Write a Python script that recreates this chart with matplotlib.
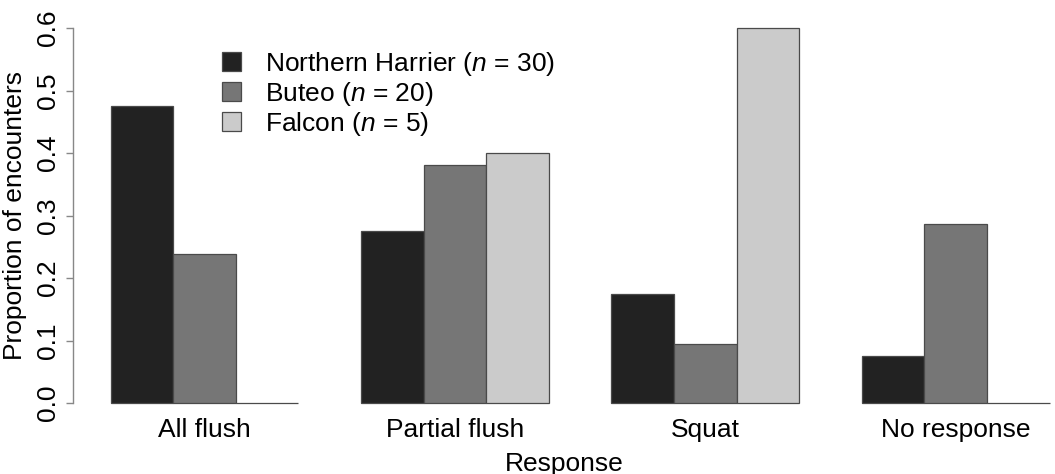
import matplotlib
matplotlib.use('Agg')
import matplotlib.pyplot as plt
import numpy as np

categories = ['All flush', 'Partial flush', 'Squat', 'No response']
series = ['Northern Harrier ($n$ = 30)', 'Buteo ($n$ = 20)', 'Falcon ($n$ = 5)']
harrier = [0.475, 0.275, 0.175, 0.075]
buteo = [0.238, 0.381, 0.095, 0.286]
falcon = [0.0, 0.4, 0.6, 0.0]
colors = ['#222222', '#767676', '#cbcbcb']
yticks = [0.0, 0.1, 0.2, 0.3, 0.4, 0.5, 0.6]

plt.rcParams['font.family'] = ['Liberation Sans', 'DejaVu Sans']
plt.rcParams['mathtext.fontset'] = 'custom'
plt.rcParams['mathtext.rm'] = 'Liberation Sans'
plt.rcParams['mathtext.it'] = 'Liberation Sans:italic'

fs = 19
fig = plt.figure(figsize=(10.55, 4.74), dpi=100)
# axes placed in pixels like the R plot region
ax = fig.add_axes([73 / 1055, 56 / 474, 982 / 1055, 405 / 474])

# R barplot beside=TRUE, space=c(0,1): groups start at 1, 5, 9, 13
starts = 1 + 4 * np.arange(len(categories))
for k, vals in enumerate([harrier, buteo, falcon]):
    ax.bar(starts + k, vals, width=1.0, align='edge', color=colors[k],
           edgecolor='#4a4a4a', linewidth=0.9, label=series[k])

ax.set_xlim(0.4, 0.4 + 982 / 62.6)
ax.set_ylim(-0.024, 0.624)

for s in ['top', 'right', 'bottom']:
    ax.spines[s].set_visible(False)
ax.spines['left'].set_bounds(0, 0.6)
ax.spines['left'].set_color('#888888')
ax.spines['left'].set_linewidth(1.0)

ax.set_yticks(yticks)
ax.set_yticklabels(['%.1f' % v for v in yticks])
ax.tick_params(axis='y', length=5, width=1.0, color='#888888', pad=4,
               labelsize=fs, labelrotation=90)
for lbl in ax.get_yticklabels():
    lbl.set_va('center')

ax.set_xticks(starts + 1.5)
ax.set_xticklabels(categories, fontsize=fs)
ax.tick_params(axis='x', length=0, pad=0)

ax.set_xlabel('Response', fontsize=fs, labelpad=7)
ax.set_ylabel('Proportion of encounters', fontsize=fs, labelpad=7)

ax.legend(loc='upper left', bbox_to_anchor=(0.141, 0.935), frameon=False,
          fontsize=fs, handlelength=0.72, handleheight=0.72,
          handletextpad=0.9, labelspacing=0.08, borderaxespad=0)

fig.savefig('out.png', dpi=100)
